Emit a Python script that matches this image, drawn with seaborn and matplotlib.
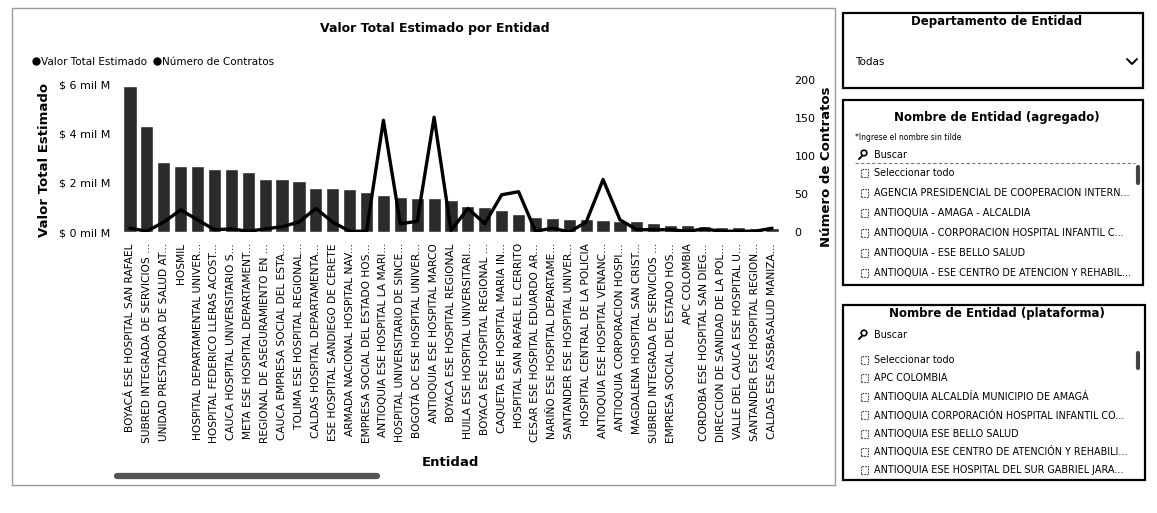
import matplotlib
matplotlib.use("Agg")
import pandas as pd
import matplotlib.pyplot as plt
from matplotlib.lines import Line2D
from matplotlib.patches import Rectangle, Circle
import seaborn as sns

# data (valor en miles de millones)
entidades = [
    "BOYACÁ ESE HOSPITAL SAN RAFAEL", "SUBRED INTEGRADA DE SERVICIOS ...",
    "UNIDAD PRESTADORA DE SALUD AT...", "HOSMIL",
    "HOSPITAL DEPARTAMENTAL UNIVER...", "HOSPITAL FEDERICO LLERAS ACOST...",
    "CAUCA HOSPITAL UNIVERSITARIO S...", "META ESE HOSPITAL DEPARTAMENT...",
    "REGIONAL DE ASEGURAMIENTO EN ...", "CAUCA EMPRESA SOCIAL DEL ESTA...",
    "TOLIMA ESE HOSPITAL REGIONAL...", "CALDAS HOSPITAL DEPARTAMENTA...",
    "ESE HOSPITAL SANDIEGO DE CERETE", "ARMADA NACIONAL HOSPITAL NAV...",
    "EMPRESA SOCIAL DEL ESTADO HOS...", "ANTIOQUIA ESE HOSPITAL LA MARI...",
    "HOSPITAL UNIVERSITARIO DE SINCE...", "BOGOTÁ DC ESE HOSPITAL UNIVER...",
    "ANTIOQUIA ESE HOSPITAL MARCO", "BOYACA ESE HOSPITAL REGIONAL",
    "HUILA ESE HOSPITAL UNIVERSITARI...", "BOYACA ESE HOSPITAL REGIONAL ...",
    "CAQUETA ESE HOSPITAL MARIA IN...", "HOSPITAL SAN RAFAEL EL CERRITO",
    "CESAR ESE HOSPITAL EDUARDO AR...", "NARIÑO ESE HOSPITAL DEPARTAME...",
    "SANTANDER ESE HOSPITAL UNIVER...", "HOSPITAL CENTRAL DE LA POLICIA",
    "ANTIOQUIA ESE HOSPITAL VENANC...", "ANTIOQUIA CORPORACION HOSPI...",
    "MAGDALENA HOSPITAL SAN CRIST...", "SUBRED INTEGRADA DE SERVICIOS ...",
    "EMPRESA SOCIAL DEL ESTADO HOS...", "APC COLOMBIA",
    "CORDOBA ESE HOSPITAL SAN DIEG...", "DIRECCION DE SANIDAD DE LA POL...",
    "VALLE DEL CAUCA ESE HOSPITAL U...", "SANTANDER ESE HOSPITAL REGION...",
    "CALDAS ESE ASSBASALUD MANIZA...",
]
valor_total = [5.95, 4.34, 2.86, 2.71, 2.71, 2.59, 2.59, 2.46, 2.17, 2.17,
               2.08, 1.78, 1.78, 1.74, 1.65, 1.51, 1.43, 1.40, 1.40, 1.30,
               1.07, 1.02, 0.89, 0.73, 0.62, 0.57, 0.55, 0.53, 0.50, 0.46,
               0.43, 0.35, 0.30, 0.28, 0.25, 0.22, 0.20, 0.18, 0.15]
num_contratos = [5, 1, 13, 29, 16, 3, 4, 1, 4, 7,
                 13, 31, 13, 1, 1, 147, 11, 14, 151, 2,
                 31, 11, 49, 53, 1, 5, 0, 13, 69, 16,
                 3, 3, 3, 1, 4, 1, 1, 1, 5]

left_ticks = [0, 2, 4, 6]
left_tick_labels = ["$ 0 mil M", "$ 2 mil M", "$ 4 mil M", "$ 6 mil M"]
right_ticks = [0, 50, 100, 150, 200]

agregado_items = ["Seleccionar todo", "AGENCIA PRESIDENCIAL DE COOPERACION INTERN...",
                  "ANTIOQUIA - AMAGA - ALCALDIA", "ANTIOQUIA - CORPORACION HOSPITAL INFANTIL C...",
                  "ANTIOQUIA - ESE BELLO SALUD", "ANTIOQUIA - ESE CENTRO DE ATENCION Y REHABIL..."]
plataforma_items = ["Seleccionar todo", "APC COLOMBIA", "ANTIOQUIA ALCALDÍA MUNICIPIO DE AMAGÁ",
                    "ANTIOQUIA CORPORACIÓN HOSPITAL INFANTIL CO...", "ANTIOQUIA ESE BELLO SALUD",
                    "ANTIOQUIA ESE CENTRO DE ATENCIÓN Y REHABILI...",
                    "ANTIOQUIA ESE HOSPITAL DEL SUR GABRIEL JARA..."]

df = pd.DataFrame({"pos": range(len(entidades)), "entidad": entidades,
                   "valor": valor_total, "contratos": num_contratos})

sns.set_theme(style="white")
plt.rcParams["font.family"] = ["DejaVu Sans"]
plt.rcParams["text.color"] = "black"
plt.rcParams["xtick.color"] = "black"
plt.rcParams["ytick.color"] = "black"

W, H = 1157, 513
fig = plt.figure(figsize=(W / 100, H / 100), dpi=100)
fig.patch.set_facecolor("white")

# main chart axes, placed in pixel terms
x0, x1, ytop, ybot = 121.5, 780.5, 80, 232
ax = fig.add_axes([x0 / W, 1 - ybot / H, (x1 - x0) / W, (ybot - ytop) / H])
sns.barplot(data=df, x="pos", y="valor", color="#2b2b2b", saturation=1,
            width=0.78, ax=ax)
ax.set_ylim(0, 6.2)
ax.set_xlim(-0.5, len(entidades) - 0.5)
ax.set_yticks(left_ticks)
ax.set_yticklabels(left_tick_labels, fontsize=8)
ax.set_xticks(range(len(entidades)))
ax.set_xticklabels(entidades, rotation=90, fontsize=7.7)
ax.tick_params(axis="both", length=0, pad=8)
ax.set_xlabel("")
ax.set_ylabel("")
sns.despine(ax=ax, left=True, bottom=True)

ax2 = ax.twinx()
sns.lineplot(data=df, x="pos", y="contratos", color="black", lw=2.4, ax=ax2)
ax2.set_ylim(0, 200)
ax2.set_yticks(right_ticks)
ax2.set_yticklabels([str(t) for t in right_ticks], fontsize=8)
ax2.tick_params(axis="y", length=0, pad=10)
ax2.set_ylabel("")
ax2.set_xlabel("")
for s in ax2.spines.values():
    s.set_visible(False)
ax.set_xlim(-0.5, len(entidades) - 0.5)

tr = fig.dpi_scale_trans


def px(x, y):
    return x / 100, (H - y) / 100


def txt(x, y, s, **kw):
    fig.text(*px(x, y), s, transform=tr, **kw)


def box(xa, ya, xb, yb, **kw):
    fig.add_artist(Rectangle(px(xa, yb), (xb - xa) / 100, (yb - ya) / 100,
                             transform=tr, fill=False, **kw))


# main panel frame and texts
box(12, 8, 835, 485, ec="#9a9a9a", lw=1)
txt(435, 28, "Valor Total Estimado por Entidad", fontsize=9, fontweight="bold",
    ha="center", va="center")
txt(45, 160, "Valor Total Estimado", fontsize=9.5, fontweight="bold",
    rotation=90, ha="center", va="center")
txt(826, 167, "Número de Contratos", fontsize=9.5, fontweight="bold",
    rotation=90, ha="center", va="center")
txt(450, 462, "Entidad", fontsize=9.5, fontweight="bold", ha="center", va="center")
fig.add_artist(Line2D([px(117, 0)[0], px(377, 0)[0]], [px(0, 476)[1]] * 2,
                      transform=tr, color="#555555", lw=4.5))

handles = [Line2D([], [], marker="o", ls="", color="black", markersize=5),
           Line2D([], [], marker="o", ls="", color="black", markersize=5)]
fig.legend(handles, ["Valor Total Estimado", "Número de Contratos"], ncol=2,
           loc="center left", bbox_to_anchor=px(28, 62), bbox_transform=tr,
           frameon=False, fontsize=7.5, handletextpad=0.05, columnspacing=0.6,
           handlelength=0.8, borderaxespad=0)

# slicer panels on the right
box(843, 13, 1143, 88, ec="black", lw=1.6)
txt(997, 22, "Departamento de Entidad", fontsize=8.5, fontweight="bold",
    ha="center", va="center")
txt(855, 62, "Todas", fontsize=7.5, ha="left", va="center")
fig.add_artist(Line2D([px(1127, 0)[0], px(1132, 0)[0], px(1137, 0)[0]],
                      [px(0, 59)[1], px(0, 64)[1], px(0, 59)[1]],
                      transform=tr, color="black", lw=1.4))


def magnifier(x, y):
    fig.add_artist(Circle(px(x + 2, y - 2), 0.028, transform=tr, fill=False,
                          ec="black", lw=1.2))
    fig.add_artist(Line2D([px(x - 3, 0)[0], px(x, 0)[0]], [px(0, y + 4)[1], px(0, y + 1)[1]],
                          transform=tr, color="black", lw=1.4))


def item_list(items, y_first, step):
    for i, s in enumerate(items):
        yy = y_first + i * step
        box(861, yy - 4, 868, yy + 4, ec="#444444", lw=0.8, ls=(0, (1.5, 1)))
        txt(874, yy, s, fontsize=6.9, ha="left", va="center")


box(843, 100, 1143, 285, ec="black", lw=1.6)
txt(997, 117, "Nombre de Entidad (agregado)", fontsize=8.5, fontweight="bold",
    ha="center", va="center")
txt(855, 137, "*Ingrese el nombre sin tilde", fontsize=5.5, ha="left", va="center")
magnifier(862, 155)
txt(874, 155, "Buscar", fontsize=6.9, ha="left", va="center")
fig.add_artist(Line2D([px(855, 0)[0], px(1135, 0)[0]], [px(0, 163)[1]] * 2,
                      transform=tr, color="#777777", lw=0.8, ls=(0, (3, 2))))
item_list(agregado_items, 173, 20)
fig.add_artist(Line2D([px(1138, 0)[0]] * 2, [px(0, 167)[1], px(0, 183)[1]],
                      transform=tr, color="#444444", lw=3))

box(843, 305, 1145, 480, ec="black", lw=1.6)
txt(997, 313, "Nombre de Entidad (plataforma)", fontsize=8.5, fontweight="bold",
    ha="center", va="center")
magnifier(862, 335)
txt(874, 335, "Buscar", fontsize=6.9, ha="left", va="center")
item_list(plataforma_items, 360, 18.4)
fig.add_artist(Line2D([px(1138, 0)[0]] * 2, [px(0, 353)[1], px(0, 368)[1]],
                      transform=tr, color="#444444", lw=3))

fig.savefig("out.png", dpi=100, facecolor="white")
